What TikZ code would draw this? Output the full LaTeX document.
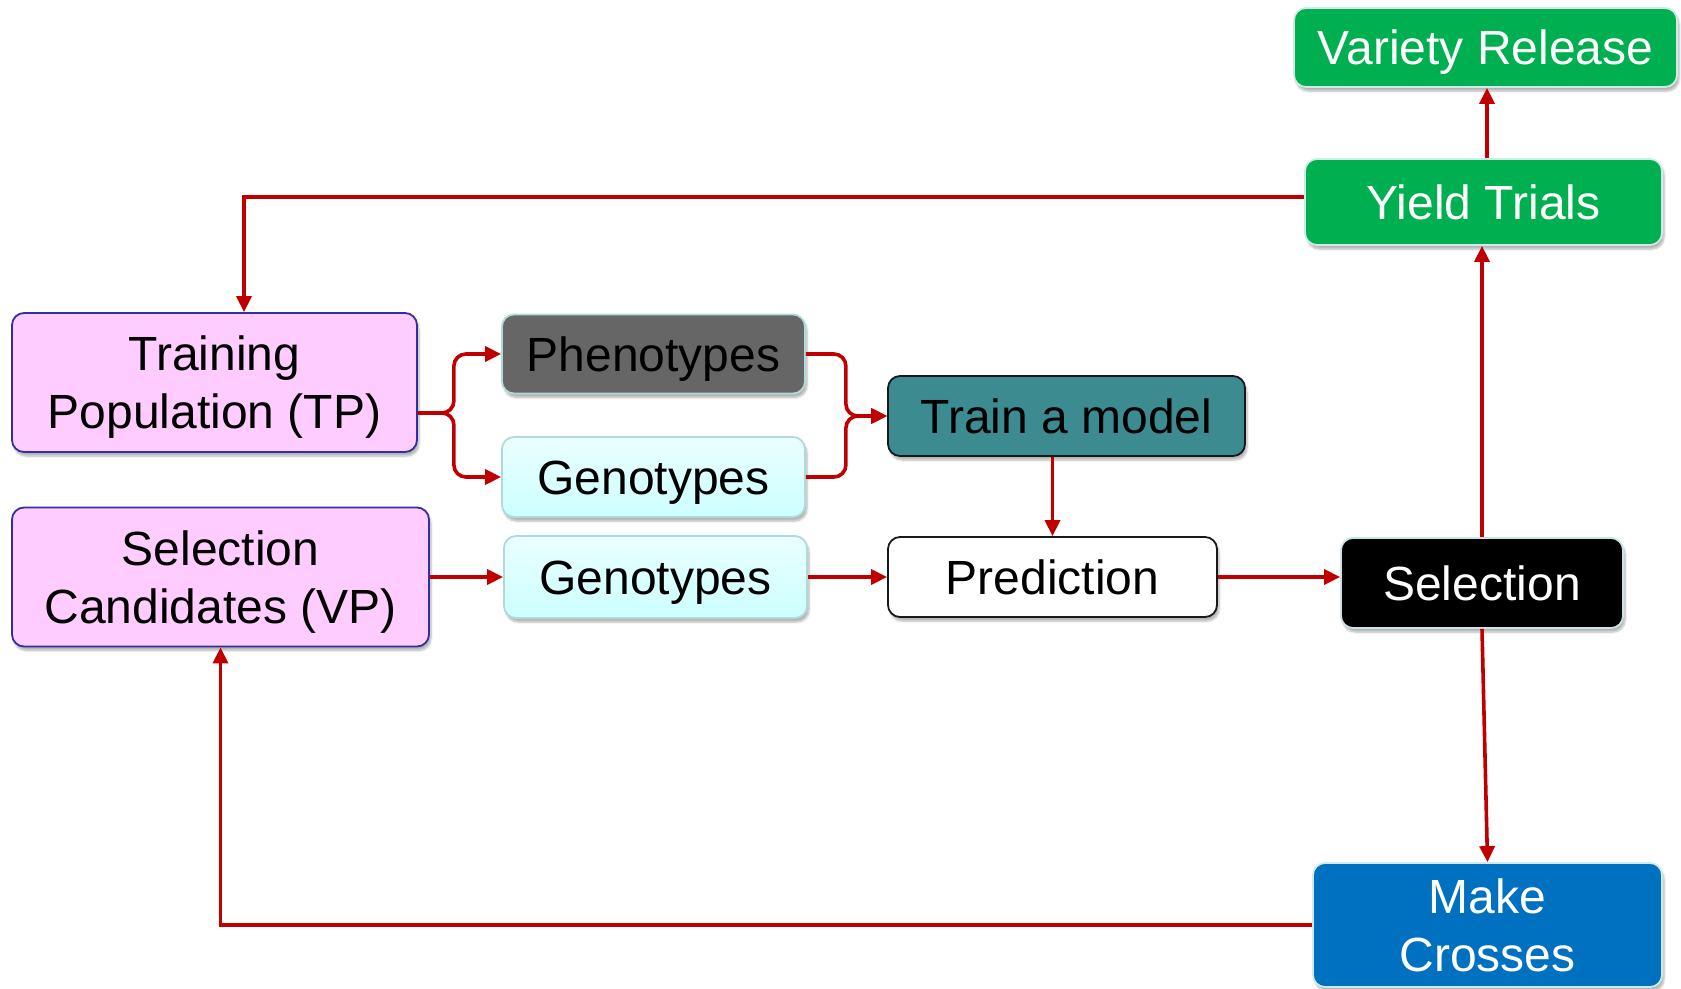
\documentclass[tikz,border=0pt]{standalone}
\usepackage{fontspec}
\setmainfont{Liberation Sans}
\usetikzlibrary{arrows.meta,shadows.blur}

\definecolor{arrowred}{HTML}{C00000}
\definecolor{pinkfill}{HTML}{FFCCFF}
\definecolor{pinkline}{HTML}{3030A0}
\definecolor{phenofill}{HTML}{666666}
\definecolor{paleline}{HTML}{B0DADA}
\definecolor{genotop}{HTML}{EAFFFF}
\definecolor{genobot}{HTML}{CCFFFF}
\definecolor{tealfill}{HTML}{3B8B90}
\definecolor{greenfill}{HTML}{00B050}
\definecolor{bluefill}{HTML}{0070C0}

\tikzset{
  box/.style={rounded corners=12pt, line width=1.8pt, inner sep=0pt, align=center,
    font=\fontsize{48}{58}\selectfont, text height=40.5pt, text depth=6.5pt,
    blur shadow={shadow xshift=2pt, shadow yshift=-4pt, shadow opacity=30, shadow blur steps=6, shadow blur extra rounding=3pt}},
  twolines/.style={text height=98.5pt},
  pinkbox/.style={box, fill=pinkfill, draw=pinkline},
  phenobox/.style={box, fill=phenofill, draw=paleline, text=black},
  genobox/.style={box, top color=genotop, bottom color=genobot, draw=paleline},
  trainbox/.style={box, fill=tealfill, draw=black!90},
  predbox/.style={box, fill=white, draw=black!90},
  selbox/.style={box, fill=black, draw=paleline!70!white, text=white},
  greenbox/.style={box, fill=greenfill, draw=paleline!60!white, text=white},
  bluebox/.style={box, fill=bluefill, draw=paleline!60!white, text=white},
  arr/.style={draw=arrowred, line width=3.6pt, -{Triangle[length=16pt,width=15pt]}},
  brace/.style={arr, rounded corners=12pt},
}

\begin{document}
\begin{tikzpicture}[x=1pt,y=-1pt]
\useasboundingbox (0,0) rectangle (1681,988);

% breeding-cycle boxes
\node[pinkbox, twolines, minimum width=405pt, minimum height=139pt] (TP) at (214.5,382.5) {Training\\Population (TP)};
\node[pinkbox, twolines, minimum width=417pt, minimum height=139pt] (VP) at (220.5,577) {Selection\\Candidates (VP)};
\node[phenobox, minimum width=303pt, minimum height=79pt] (Pheno) at (653.5,354) {Phenotypes};
\node[genobox, minimum width=303pt, minimum height=80pt] (GenoA) at (653.5,477) {Genotypes};
\node[genobox, minimum width=303pt, minimum height=82pt] (GenoB) at (655.5,577) {Genotypes};
\node[trainbox, minimum width=357pt, minimum height=80pt] (Train) at (1066.5,416) {Train a model};
\node[predbox, minimum width=329pt, minimum height=80pt] (Pred) at (1052.5,577) {Prediction};
\node[selbox, minimum width=282pt, minimum height=90pt] (Sel) at (1482,583) {Selection};
\node[greenbox, minimum width=357pt, minimum height=86pt] (Yield) at (1483.5,202) {Yield Trials};
\node[greenbox, minimum width=383pt, minimum height=79pt] (Variety) at (1485.5,47.5) {Variety Release};
\node[bluebox, twolines, minimum width=349pt, minimum height=124pt] (Make) at (1487.5,925) {Make\\Crosses};

% forks into and out of the training data
\draw[brace] ([yshift=-30.5pt]TP.east) -- ++(36,0) |- (Pheno.west);
\draw[brace] ([yshift=-30.5pt]TP.east) -- ++(36,0) |- (GenoA.west);
\draw[brace] (Pheno.east) -- ++(40,0) |- (Train.west);
\draw[brace] (GenoA.east) -- ++(40,0) |- (Train.west);

% prediction pipeline
\draw[arr] (VP.east) -- (GenoB.west);
\draw[arr] (GenoB.east) -- (Pred.west);
\draw[arr] (Pred.north |- Train.south) -- (Pred.north);
\draw[arr] (Pred.east) -- (Pred.east -| Sel.west);

% selection outcomes
\draw[arr] (Sel.north) -- (Sel.north |- Yield.south);
\draw[arr] ([xshift=3.5pt]Yield.north) -- ([xshift=1.5pt]Variety.south);
\draw[arr] (Sel.south) -- (Make.north);

% feedback loops
\draw[arr] ([yshift=5pt]Yield.west) -| ([xshift=29.5pt]TP.north);
\draw[arr] (Make.west) -| (VP.south);
\end{tikzpicture}
\end{document}
